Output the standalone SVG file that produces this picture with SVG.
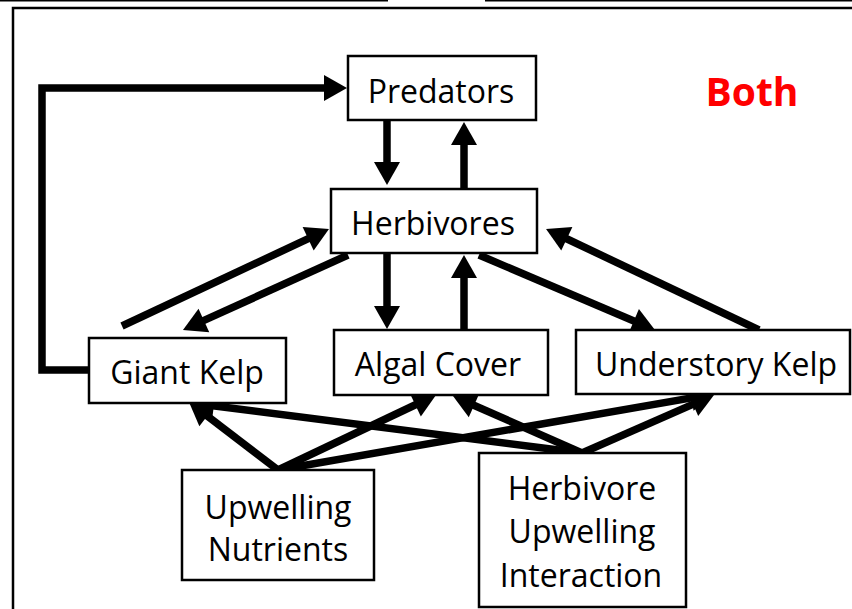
<svg xmlns="http://www.w3.org/2000/svg" width="852" height="609" viewBox="0 0 852 609">
  <style>
    .frame { fill: none; stroke: #000; stroke-width: 2.5; }
    .box { fill: #fff; stroke: #000; stroke-width: 2.5; }
    .label { font-family: "Open Sans", "Liberation Sans", sans-serif; font-size: 32px; fill: #000; text-anchor: middle; }
    .title { font-family: "Open Sans", "Liberation Sans", sans-serif; font-size: 39px; font-weight: bold; fill: #ff0000; text-anchor: middle; }
    .link { fill: none; stroke: #000; stroke-width: 7.5; stroke-linecap: butt; stroke-linejoin: miter; }
  </style>
  <defs>
    <!-- filled arrowhead; the shaft stops 14px short of the tip -->
    <marker id="head" markerUnits="userSpaceOnUse" markerWidth="26" markerHeight="28" refX="9" refY="13" orient="auto" viewBox="0 0 26 28" overflow="visible">
      <path d="M0,0 L23,13 L0,26 z" fill="#000"/>
    </marker>
  </defs>

  <rect width="852" height="609" fill="#fff"/>

  <!-- page rule and outer frame -->
  <g id="frame">
    <line x1="0" y1="0.5" x2="388" y2="0.5" stroke="#000" stroke-width="2"/>
    <line x1="485" y1="0.5" x2="852" y2="0.5" stroke="#000" stroke-width="2"/>
    <rect class="frame" x="13" y="8" width="860" height="620"/>
  </g>

  <!-- connectors -->
  <g id="connectors">
    <path class="link" marker-end="url(#head)" d="M89,370 H42 V88 H333"/>
    <path class="link" marker-end="url(#head)" d="M387,120 V171"/>
    <path class="link" marker-end="url(#head)" d="M464,189 V136"/>
    <path class="link" marker-end="url(#head)" d="M122,326 L316.3,234.9"/>
    <path class="link" marker-end="url(#head)" d="M348,255 L195.7,324.2"/>
    <path class="link" marker-end="url(#head)" d="M387,253 V315"/>
    <path class="link" marker-end="url(#head)" d="M464,338 V269"/>
    <path class="link" marker-end="url(#head)" d="M479,255 L642.1,324.5"/>
    <path class="link" marker-end="url(#head)" d="M759,330 L558.7,235"/>
    <path class="link" marker-end="url(#head)" d="M278,470 L200.1,410.5"/>
    <path class="link" marker-end="url(#head)" d="M278,470 L423.4,401"/>
    <path class="link" marker-end="url(#head)" d="M278,470 L700.2,396.4"/>
    <path class="link" marker-end="url(#head)" d="M582,453 L204.9,404.8"/>
    <path class="link" marker-end="url(#head)" d="M582,453 L465.8,401.7"/>
    <path class="link" marker-end="url(#head)" d="M582,453 L701.2,400.6"/>
  </g>

  <g id="predators">
    <rect class="box" x="348" y="56" width="188" height="64"/>
    <text class="label" x="441" y="103">Predators</text>
  </g>
  <g id="herbivores">
    <rect class="box" x="331" y="189" width="206" height="64"/>
    <text class="label" x="433" y="235">Herbivores</text>
  </g>
  <g id="giant-kelp">
    <rect class="box" x="89" y="338" width="197" height="65"/>
    <text class="label" x="187" y="384">Giant Kelp</text>
  </g>
  <g id="algal-cover">
    <rect class="box" x="334" y="330" width="214" height="65"/>
    <text class="label" x="438" y="376">Algal Cover</text>
  </g>
  <g id="understory-kelp">
    <rect class="box" x="576" y="330" width="274" height="64"/>
    <text class="label" x="716" y="376">Understory Kelp</text>
  </g>
  <g id="upwelling-nutrients">
    <rect class="box" x="182" y="470" width="192" height="110"/>
    <text class="label" x="278" y="519">Upwelling</text>
    <text class="label" x="278" y="561">Nutrients</text>
  </g>
  <g id="herbivore-upwelling-interaction">
    <rect class="box" x="479" y="453" width="207" height="154"/>
    <text class="label" x="582" y="500">Herbivore</text>
    <text class="label" x="582" y="543">Upwelling</text>
    <text class="label" x="581" y="587">Interaction</text>
  </g>

  <text class="title" x="752" y="106">Both</text>
</svg>
